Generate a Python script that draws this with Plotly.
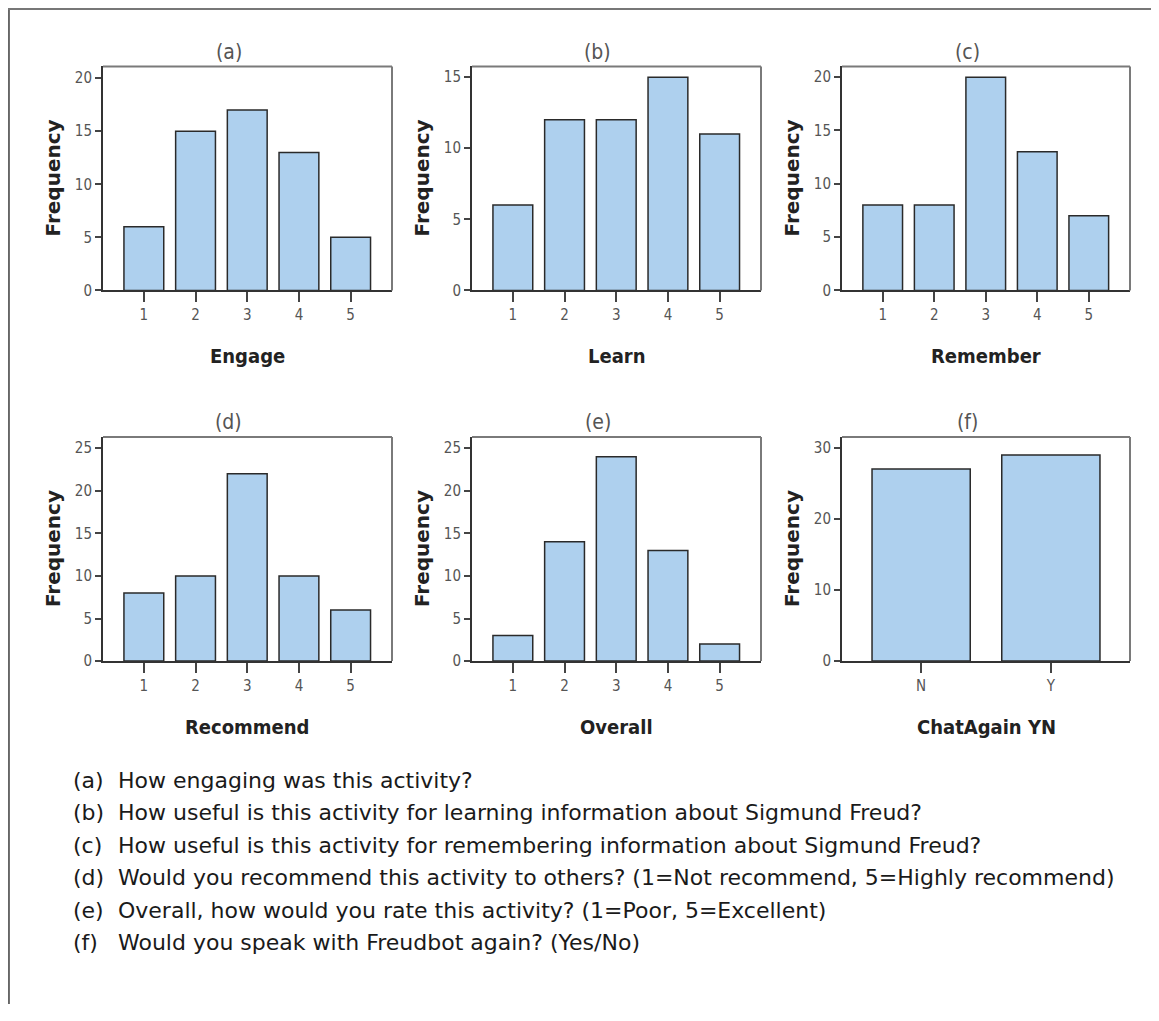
import plotly.graph_objects as go

# page body has an 8px margin on every side; keep the page within the window
OFF = 8
PAGE_W, PAGE_H = 1159, 1021
W, H = PAGE_W - 2 * OFF, PAGE_H - 2 * OFF

# ---------------- data ----------------
panel_letters = ["(a)", "(b)", "(c)", "(d)", "(e)", "(f)"]
x_titles = ["Engage", "Learn", "Remember", "Recommend", "Overall", "ChatAgain YN"]
ratings = [1, 2, 3, 4, 5]
engage = [6, 15, 17, 13, 5]
learn = [6, 12, 12, 15, 11]
remember = [8, 8, 20, 13, 7]
recommend = [8, 10, 22, 10, 6]
overall = [3, 14, 24, 13, 2]
chat_cats = ["N", "Y"]
chat_again = [27, 29]
y_max = [21.1, 15.75, 21.0, 26.3, 26.3, 31.5]
y_ticks = [[0, 5, 10, 15, 20], [0, 5, 10, 15], [0, 5, 10, 15, 20],
           [0, 5, 10, 15, 20, 25], [0, 5, 10, 15, 20, 25], [0, 10, 20, 30]]
question_labels = ["(a)", "(b)", "(c)", "(d)", "(e)", "(f)"]
questions = [
    "How engaging was this activity?",
    "How useful is this activity for learning information about Sigmund Freud?",
    "How useful is this activity for remembering information about Sigmund Freud?",
    "Would you recommend this activity to others? (1=Not recommend, 5=Highly recommend)",
    "Overall, how would you rate this activity? (1=Poor, 5=Excellent)",
    "Would you speak with Freudbot again? (Yes/No)",
]

series_x = [ratings, ratings, ratings, ratings, ratings, chat_cats]
series_y = [engage, learn, remember, recommend, overall, chat_again]

# ---------------- layout geometry (page pixels) ----------------
cols_px = [(103, 392), (472, 761), (842, 1130)]
rows_px = [(67, 293), (441, 667)]

def px_x(x):
    return (x - OFF) / W

def px_y(y):
    return 1 - (y - OFF) / H

NARROW = "DejaVu Sans Condensed, Liberation Sans Narrow, Arial Narrow, Liberation Sans, sans-serif"
BAR_FILL = "#aed0ee"
BAR_LINE = "#2a2a2a"
AXIS_DARK = "#333333"
FRAME_GRAY = "#7a7a7a"

fig = go.Figure()
annotations = []
shapes = []

for i in range(6):
    r, c = divmod(i, 3)
    x0, x1 = cols_px[c]
    y0, y1 = rows_px[r]
    xa = "x" if i == 0 else f"x{i+1}"
    ya = "y" if i == 0 else f"y{i+1}"
    is_cat = i == 5
    fig.add_trace(go.Bar(
        x=series_x[i], y=series_y[i],
        xaxis=xa, yaxis=ya,
        marker=dict(color=BAR_FILL, line=dict(color=BAR_LINE, width=1.5)),
        width=0.757 if is_cat else 0.77,
        showlegend=False, hoverinfo="x+y",
    ))
    xkey = "xaxis" if i == 0 else f"xaxis{i+1}"
    ykey = "yaxis" if i == 0 else f"yaxis{i+1}"
    xaxis = dict(
        domain=[px_x(x0), px_x(x1)], anchor=ya,
        showgrid=False, zeroline=False,
        showline=True, linecolor=AXIS_DARK, linewidth=2,
        ticks="outside", ticklen=10, tickwidth=2, tickcolor="#444444",
        tickfont=dict(family=NARROW, size=15, color="#555555"),
        fixedrange=True,
    )
    if is_cat:
        xaxis.update(type="category", range=[-0.61, 1.61])
    else:
        xaxis.update(range=[0.21, 5.8], tickmode="array", tickvals=ratings,
                     ticktext=[str(v) for v in ratings])
    yaxis = dict(
        domain=[px_y(y1), px_y(y0)], anchor=xa,
        range=[0, y_max[i]], showgrid=False, zeroline=False,
        showline=True, linecolor=AXIS_DARK, linewidth=2,
        ticks="outside", ticklen=6, tickwidth=2, tickcolor="#444444",
        tickmode="array", tickvals=y_ticks[i],
        tickfont=dict(family=NARROW, size=15, color="#555555"),
        fixedrange=True,
    )
    fig.update_layout({xkey: xaxis, ykey: yaxis})

    # top and right frame of the panel (lighter gray)
    shapes.append(dict(type="line", xref=f"{xa} domain", yref=f"{ya} domain",
                       x0=0, x1=1, y0=1, y1=1, line=dict(color=FRAME_GRAY, width=2)))
    shapes.append(dict(type="line", xref=f"{xa} domain", yref=f"{ya} domain",
                       x0=1, x1=1, y0=0, y1=1, line=dict(color=FRAME_GRAY, width=2)))

    cx = (x0 + x1) / 2
    annotations.append(dict(
        x=px_x(cx - 19), y=px_y(y0 - 15), xref="paper", yref="paper",
        text=panel_letters[i], showarrow=False, xanchor="center", yanchor="middle",
        font=dict(family=NARROW, size=21, color="#555555"),
    ))
    annotations.append(dict(
        x=px_x(cx), y=px_y(y1 + 66), xref="paper", yref="paper",
        text=f"<b>{x_titles[i]}</b>", showarrow=False, xanchor="center", yanchor="middle",
        font=dict(family=NARROW, size=20, color="#222222"),
    ))
    annotations.append(dict(
        x=px_x(x0 - 50), y=px_y((y0 + y1) / 2), xref="paper", yref="paper",
        text="<b>Frequency</b>", showarrow=False, xanchor="center", yanchor="middle",
        textangle=-90,
        font=dict(family="DejaVu Sans, Verdana, sans-serif", size=20, color="#222222"),
    ))

QFONT = "DejaVu Sans, Verdana, sans-serif"
for k in range(6):
    yc = 787 + 32.8 * k
    annotations.append(dict(
        x=px_x(71), y=px_y(yc), xref="paper", yref="paper",
        text=question_labels[k], showarrow=False, xanchor="left", yanchor="middle",
        font=dict(family=QFONT, size=22, color="#1a1a1a"),
    ))
    annotations.append(dict(
        x=px_x(116), y=px_y(yc), xref="paper", yref="paper",
        text=questions[k], showarrow=False, xanchor="left", yanchor="middle",
        font=dict(family=QFONT, size=22, color="#1a1a1a"),
    ))

# outer frame (left and top edges)
shapes.append(dict(type="line", xref="paper", yref="paper", x0=0.0008, x1=0.0008, y0=0, y1=1,
                   line=dict(color="#666666", width=2)))
shapes.append(dict(type="line", xref="paper", yref="paper", x0=0, x1=1, y0=0.999, y1=0.999,
                   line=dict(color="#777777", width=2)))

fig.update_layout(
    width=W, height=H,
    margin=dict(l=0, r=0, t=0, b=0),
    paper_bgcolor="white", plot_bgcolor="white",
    annotations=annotations, shapes=shapes,
)

fig.write_html("out.html")
